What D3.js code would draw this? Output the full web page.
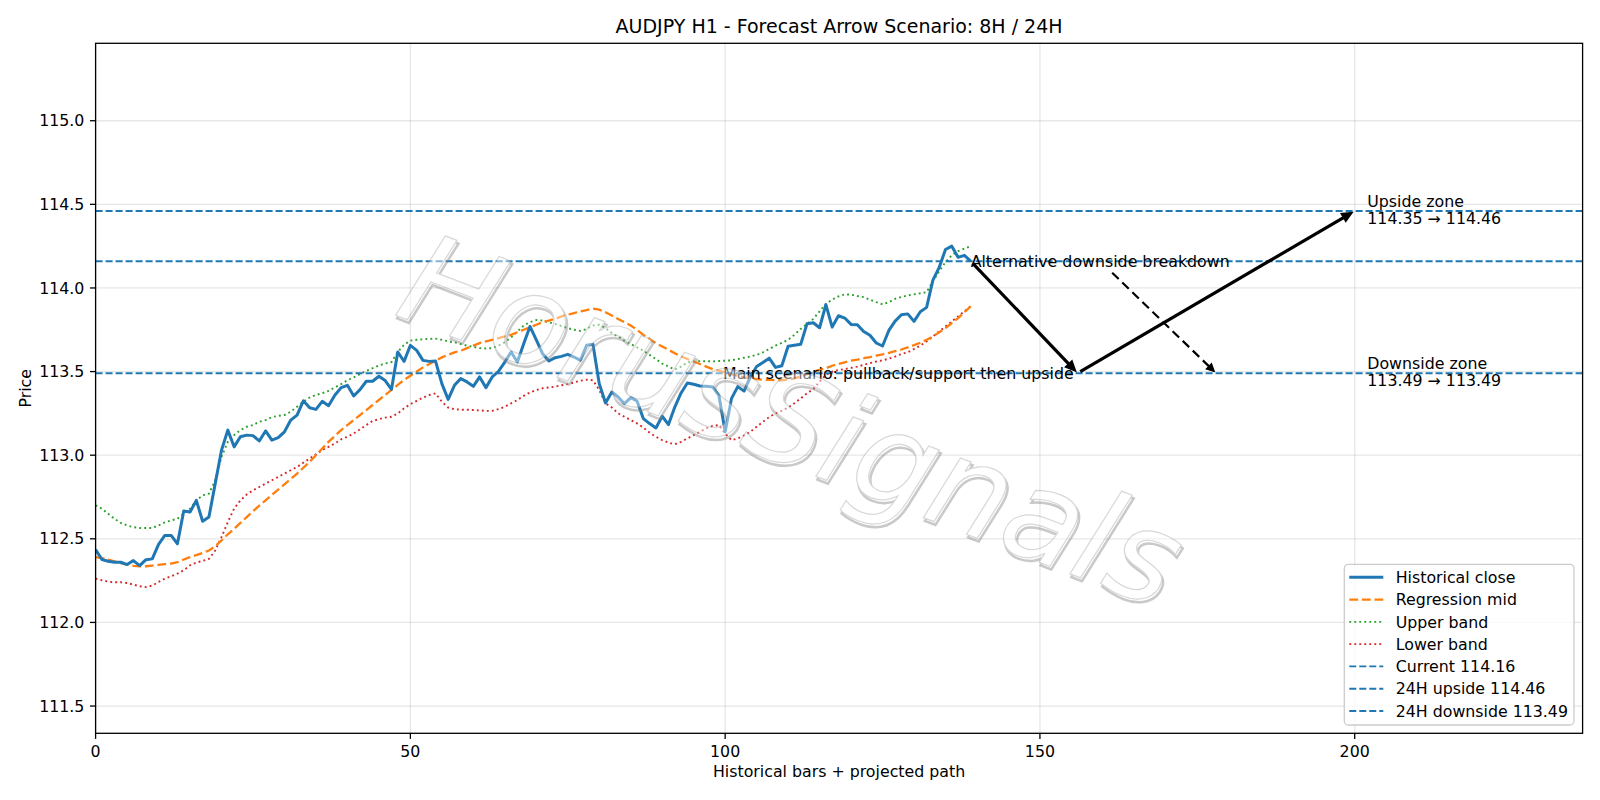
<!DOCTYPE html>
<html>
<head>
<meta charset="utf-8">
<script src="https://cdn.jsdelivr.net/npm/d3@7"></script>
<style>
  body { margin: 0; background: #fff; }
  text { font-family: "DejaVu Sans", sans-serif; fill: #000; }
</style>
</head>
<body>
<script>
// values
var closeVals = [112.435,112.376,112.366,112.36,112.36,112.346,112.37,112.34,112.375,112.38,
  112.467,112.52,112.52,112.47,112.666,112.66,112.73,112.605,112.63,112.83,
  113.03,113.15,113.05,113.11,113.12,113.117,113.085,113.145,113.09,113.105,
  113.14,113.21,113.24,113.325,113.284,113.274,113.322,113.296,113.358,113.404,
  113.418,113.354,113.392,113.442,113.442,113.472,113.446,113.394,113.617,113.561,
  113.657,113.627,113.567,113.561,113.563,113.428,113.334,113.418,113.458,113.438,
  113.412,113.468,113.404,113.468,113.502,113.557,113.617,113.557,113.667,113.77,
  113.69,113.607,113.563,113.583,113.591,113.603,113.587,113.567,113.657,113.663,
  113.428,113.312,113.378,113.348,113.308,113.344,113.324,113.219,113.189,113.163,
  113.233,113.183,113.288,113.372,113.432,113.424,113.414,113.412,113.408,113.358,
  113.14,113.338,113.41,113.383,113.468,113.53,113.555,113.58,113.525,113.535,
  113.651,113.657,113.663,113.786,113.792,113.762,113.9,113.766,113.834,113.82,
  113.782,113.78,113.74,113.717,113.671,113.653,113.746,113.802,113.84,113.845,
  113.8,113.858,113.884,114.047,114.123,114.23,114.25,114.183,114.195,114.16];

var midVals = [112.39,112.385,112.375,112.365,112.355,112.345,112.338,112.335,112.336,112.34,
  112.344,112.348,112.352,112.36,112.376,112.39,112.403,112.415,112.43,112.455,
  112.49,112.527,112.56,112.595,112.63,112.665,112.698,112.73,112.762,112.794,
  112.826,112.858,112.89,112.925,112.96,113.0,113.04,113.08,113.115,113.15,
  113.18,113.21,113.24,113.27,113.3,113.33,113.36,113.39,113.42,113.45,
  113.475,113.5,113.525,113.545,113.565,113.585,113.6,113.615,113.625,113.64,
  113.655,113.67,113.68,113.69,113.7,113.71,113.72,113.735,113.75,113.765,
  113.78,113.795,113.805,113.815,113.83,113.84,113.85,113.86,113.868,113.876,
  113.87,113.855,113.835,113.815,113.795,113.775,113.75,113.72,113.695,113.67,
  113.65,113.63,113.61,113.59,113.575,113.56,113.545,113.53,113.515,113.505,
  113.495,113.485,113.475,113.465,113.46,113.455,113.452,113.45,113.448,113.448,
  113.452,113.46,113.47,113.485,113.5,113.51,113.52,113.535,113.545,113.555,
  113.565,113.572,113.58,113.587,113.595,113.603,113.612,113.622,113.632,113.645,
  113.658,113.672,113.69,113.71,113.735,113.76,113.79,113.82,113.855,113.89];

var upperVals = [112.70,112.68,112.65,112.62,112.595,112.58,112.57,112.565,112.565,112.565,
  112.58,112.598,112.61,112.62,112.65,112.68,112.73,112.76,112.77,112.85,
  112.99,113.08,113.12,113.15,113.17,113.18,113.2,113.21,113.228,113.235,
  113.24,113.26,113.29,113.32,113.345,113.36,113.37,113.385,113.405,113.425,
  113.448,113.465,113.485,113.504,113.52,113.537,113.548,113.557,113.617,113.66,
  113.685,113.69,113.693,113.695,113.697,113.69,113.68,113.675,113.665,113.655,
  113.648,113.64,113.638,113.64,113.655,113.675,113.705,113.74,113.775,113.796,
  113.808,113.805,113.795,113.785,113.772,113.76,113.75,113.743,113.755,113.775,
  113.78,113.76,113.73,113.71,113.685,113.665,113.645,113.625,113.6,113.575,
  113.548,113.53,113.512,113.53,113.555,113.56,113.562,113.562,113.561,113.563,
  113.565,113.567,113.575,113.583,113.59,113.6,113.615,113.635,113.655,113.672,
  113.69,113.72,113.755,113.785,113.815,113.86,113.905,113.93,113.95,113.962,
  113.96,113.952,113.945,113.93,113.915,113.902,113.915,113.935,113.946,113.955,
  113.962,113.968,113.975,114.04,114.1,114.155,114.195,114.22,114.235,114.25];

var lowerVals = [112.262,112.252,112.244,112.24,112.24,112.236,112.226,112.216,112.212,112.22,
  112.242,112.262,112.276,112.292,112.312,112.342,112.358,112.368,112.38,112.43,
  112.51,112.6,112.68,112.73,112.765,112.79,112.81,112.83,112.85,112.87,
  112.89,112.91,112.93,112.955,112.98,113.005,113.03,113.05,113.07,113.095,
  113.11,113.13,113.155,113.18,113.205,113.215,113.225,113.23,113.25,113.28,
  113.305,113.325,113.345,113.36,113.37,113.32,113.285,113.275,113.272,113.272,
  113.27,113.268,113.265,113.265,113.275,113.29,113.31,113.33,113.355,113.375,
  113.39,113.4,113.405,113.41,113.418,113.425,113.435,113.445,113.452,113.448,
  113.39,113.31,113.285,113.25,113.23,113.21,113.19,113.165,113.135,113.11,
  113.09,113.075,113.065,113.08,113.1,113.12,113.14,113.16,113.175,113.18,
  113.13,113.09,113.1,113.118,113.14,113.17,113.2,113.228,113.25,113.265,
  113.285,113.31,113.34,113.37,113.395,113.44,113.48,113.5,113.51,113.515,
  113.522,113.53,113.54,113.55,113.56,113.567,113.577,113.59,113.605,113.615,
  113.635,113.655,113.68,113.71,113.74,113.77,113.8,113.83,113.86,113.89];

var currentPrice = 114.16;
var upsideLevel = 114.46;
var downsideLevel = 113.49;
var upsideZone = [114.35, 114.46];
var downsideZone = [113.49, 113.49];

// projected path: current -> pullback -> upside target
var scenarioPath = [[139, 114.16], [156, 113.49], [200, 114.46]];
var altTarget = [178, 113.49];
var zoneLabelX = 202;

var xTicks = [0, 50, 100, 150, 200];
var yTicks = [111.5, 112.0, 112.5, 113.0, 113.5, 114.0, 114.5, 115.0];
var xDomain = [0, 236.2];
var yDomain = [111.337, 115.463];

var W = 1600, H = 800;
var plotL = 95.6, plotR = 1582.6, plotT = 43.3, plotB = 733.3;
var FS = 15.8;

var C_BLUE = "#1f77b4", C_ORANGE = "#ff7f0e", C_GREEN = "#2ca02c", C_RED = "#d62728";

var svg = d3.select("body").append("svg")
    .attr("width", W).attr("height", H);

var x = d3.scaleLinear().domain(xDomain).range([plotL, plotR]);
var y = d3.scaleLinear().domain(yDomain).range([plotB, plotT]);

svg.append("defs").append("clipPath").attr("id", "plotclip")
  .append("rect").attr("x", plotL).attr("y", plotT)
  .attr("width", plotR - plotL).attr("height", plotB - plotT);

//grid
var grid = svg.append("g");
grid.selectAll(".gx").data(xTicks).enter().append("line")
    .attr("x1", d => x(d)).attr("x2", d => x(d))
    .attr("y1", plotT).attr("y2", plotB)
    .attr("stroke", "#b0b0b0").attr("stroke-opacity", 0.3).attr("stroke-width", 1.3);
grid.selectAll(".gy").data(yTicks).enter().append("line")
    .attr("x1", plotL).attr("x2", plotR)
    .attr("y1", d => y(d)).attr("y2", d => y(d))
    .attr("stroke", "#b0b0b0").attr("stroke-opacity", 0.3).attr("stroke-width", 1.3);

var plot = svg.append("g").attr("clip-path", "url(#plotclip)");

function seriesLine(vals) {
  return d3.line().x((d, i) => x(i)).y(d => y(d))(vals);
}

plot.append("path").attr("d", seriesLine(upperVals))
    .attr("fill", "none").attr("stroke", C_GREEN).attr("stroke-width", 1.9)
    .attr("stroke-dasharray", "1.9,3.1");
plot.append("path").attr("d", seriesLine(lowerVals))
    .attr("fill", "none").attr("stroke", C_RED).attr("stroke-width", 1.9)
    .attr("stroke-dasharray", "1.9,3.1");
plot.append("path").attr("d", seriesLine(midVals))
    .attr("fill", "none").attr("stroke", C_ORANGE).attr("stroke-width", 2.3)
    .attr("stroke-dasharray", "8.8,3.8");
plot.append("path").attr("d", seriesLine(closeVals))
    .attr("fill", "none").attr("stroke", C_BLUE).attr("stroke-width", 3)
    .attr("stroke-linejoin", "round");

// horizontal levels
var levels = [currentPrice, upsideLevel, downsideLevel];
plot.selectAll(".lvl").data(levels).enter().append("line")
    .attr("x1", plotL).attr("x2", plotR)
    .attr("y1", d => y(d)).attr("y2", d => y(d))
    .attr("stroke", C_BLUE).attr("stroke-width", 1.9)
    .attr("stroke-dasharray", "7,3");

// arrows
function drawArrow(g, p0, p1, opts) {
  var dx = p1[0] - p0[0], dy = p1[1] - p0[1];
  var len = Math.sqrt(dx * dx + dy * dy);
  var ux = dx / len, uy = dy / len;
  var s = 3;
  var a = [p0[0] + ux * s, p0[1] + uy * s];
  var b = [p1[0] - ux * s, p1[1] - uy * s];
  var hl = opts.headLen, hw = opts.headW;
  var base = [b[0] - ux * hl, b[1] - uy * hl];
  g.append("line")
    .attr("x1", a[0]).attr("y1", a[1]).attr("x2", base[0] + ux * 2).attr("y2", base[1] + uy * 2)
    .attr("stroke", "#000").attr("stroke-width", opts.width)
    .attr("stroke-dasharray", opts.dash || null);
  g.append("path")
    .attr("d", "M" + b[0] + "," + b[1] +
      "L" + (base[0] - uy * hw) + "," + (base[1] + ux * hw) +
      "L" + (base[0] + uy * hw) + "," + (base[1] - ux * hw) + "Z")
    .attr("fill", "#000").attr("stroke", "#000").attr("stroke-width", 1.5)
    .attr("stroke-linejoin", "miter");
}

var ann = svg.append("g");
var pts = scenarioPath.map(d => [x(d[0]), y(d[1])]);
drawArrow(ann, pts[0], pts[1], {width: 3.2, headLen: 10, headW: 4.5});
drawArrow(ann, pts[1], pts[2], {width: 3.2, headLen: 10, headW: 4.5});

// alternative text + dashed arrow from its box
var altText = ann.append("text")
    .attr("x", pts[0][0]).attr("y", pts[0][1])
    .attr("dy", "0.35em")
    .style("font-size", FS + "px")
    .text("Alternative downside breakdown");
var bb = altText.node().getBBox();
var cx = bb.x + bb.width / 2, cy = bb.y + bb.height / 2;
var tgt = [x(altTarget[0]), y(altTarget[1])];
var ddx = tgt[0] - cx, ddy = tgt[1] - cy;
var tEdge = Math.min((bb.height / 2) / Math.abs(ddy), (bb.width / 2) / Math.abs(ddx));
var startPt = [cx + ddx * tEdge, cy + ddy * tEdge];
drawArrow(ann, startPt, tgt, {width: 2.2, headLen: 7, headW: 3.5, dash: "9,5"});

ann.append("text")
    .attr("x", pts[1][0] - 4).attr("y", pts[1][1])
    .attr("dy", "0.35em").attr("text-anchor", "end")
    .style("font-size", FS + "px")
    .text("Main scenario: pullback/support then upside");

// zone labels
function zoneLabel(level, title, zone) {
  var t = ann.append("text").attr("x", x(zoneLabelX)).attr("y", y(level))
      .style("font-size", FS + "px");
  t.append("tspan").attr("x", x(zoneLabelX)).attr("dy", "-0.25em").text(title);
  t.append("tspan").attr("x", x(zoneLabelX)).attr("dy", "1.05em")
    .text(zone[0].toFixed(2) + " \u2192 " + zone[1].toFixed(2));
}
zoneLabel(upsideLevel, "Upside zone", upsideZone);
zoneLabel(downsideLevel, "Downside zone", downsideZone);

// watermark
var wm = svg.append("g")
    .attr("transform", "translate(" + 792 + "," + 420 + ") rotate(21)")
    .attr("opacity", 0.45);
wm.append("text")
    .attr("text-anchor", "middle").attr("dy", "0.35em")
    .attr("transform", "translate(2.5,2.5)")
    .style("font-size", "126px").style("font-style", "italic")
    .style("fill", "none").style("stroke", "#888").style("stroke-width", 2.5)
    .text("HorusSignals");
wm.append("text")
    .attr("text-anchor", "middle").attr("dy", "0.35em")
    .style("font-size", "126px").style("font-style", "italic")
    .style("fill", "#fff").style("stroke", "#aaa").style("stroke-width", 1.2)
    .text("HorusSignals");

// axes frame
svg.append("rect").attr("x", plotL).attr("y", plotT)
    .attr("width", plotR - plotL).attr("height", plotB - plotT)
    .attr("fill", "none").attr("stroke", "#000").attr("stroke-width", 1.3);

var xAxis = svg.append("g");
xAxis.selectAll("line").data(xTicks).enter().append("line")
    .attr("x1", d => x(d)).attr("x2", d => x(d))
    .attr("y1", plotB).attr("y2", plotB + 5.6)
    .attr("stroke", "#000").attr("stroke-width", 1.3);
xAxis.selectAll("text").data(xTicks).enter().append("text")
    .attr("x", d => x(d)).attr("y", plotB + 23.5)
    .attr("text-anchor", "middle").style("font-size", FS + "px")
    .text(d => d3.format("d")(d));

var yAxis = svg.append("g");
yAxis.selectAll("line").data(yTicks).enter().append("line")
    .attr("x1", plotL - 5.6).attr("x2", plotL)
    .attr("y1", d => y(d)).attr("y2", d => y(d))
    .attr("stroke", "#000").attr("stroke-width", 1.3);
yAxis.selectAll("text").data(yTicks).enter().append("text")
    .attr("x", plotL - 11.2).attr("y", d => y(d)).attr("dy", "0.36em")
    .attr("text-anchor", "end").style("font-size", FS + "px")
    .text(d => d3.format(".1f")(d));

svg.append("text").attr("x", (plotL + plotR) / 2).attr("y", 777)
    .attr("text-anchor", "middle").style("font-size", FS + "px")
    .text("Historical bars + projected path");
svg.append("text")
    .attr("transform", "translate(" + 31 + "," + ((plotT + plotB) / 2) + ") rotate(-90)")
    .attr("text-anchor", "middle").style("font-size", FS + "px")
    .text("Price");
svg.append("text").attr("x", (plotL + plotR) / 2).attr("y", 33)
    .attr("text-anchor", "middle").style("font-size", "19px")
    .text("AUDJPY H1 - Forecast Arrow Scenario: 8H / 24H");

// legend
var legendItems = [
  {label: "Historical close", color: C_BLUE, width: 3, dash: null},
  {label: "Regression mid", color: C_ORANGE, width: 2.3, dash: "8.8,3.8"},
  {label: "Upper band", color: C_GREEN, width: 1.9, dash: "1.9,3.1"},
  {label: "Lower band", color: C_RED, width: 1.9, dash: "1.9,3.1"},
  {label: "Current " + currentPrice.toFixed(2), color: C_BLUE, width: 1.9, dash: "7,3"},
  {label: "24H upside " + upsideLevel.toFixed(2), color: C_BLUE, width: 1.9, dash: "7,3"},
  {label: "24H downside " + downsideLevel.toFixed(2), color: C_BLUE, width: 1.9, dash: "7,3"}
];
var lg = svg.append("g");
lg.append("rect").attr("x", 1344.3).attr("y", 564.3)
    .attr("width", 229.7).attr("height", 160.7).attr("rx", 4)
    .attr("fill", "#fff").attr("fill-opacity", 0.8)
    .attr("stroke", "#cccccc").attr("stroke-width", 1.3);
var rows = lg.selectAll(".row").data(legendItems).enter().append("g")
    .attr("transform", (d, i) => "translate(0," + (577.3 + i * 22.28) + ")");
rows.append("line").attr("x1", 1349.3).attr("x2", 1383.3)
    .attr("stroke", d => d.color).attr("stroke-width", d => d.width)
    .attr("stroke-dasharray", d => d.dash);
rows.append("text").attr("x", 1395.7).attr("dy", "0.36em")
    .style("font-size", FS + "px").text(d => d.label);
</script>
</body>
</html>
